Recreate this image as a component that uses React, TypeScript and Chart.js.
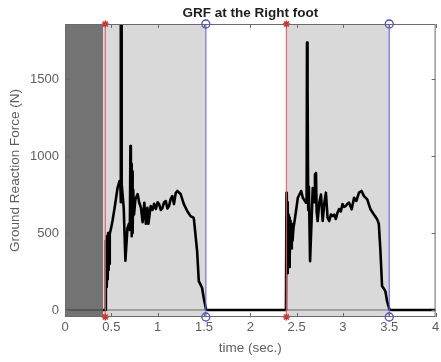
import React, { useEffect, useRef } from "react";
import { Chart, registerables } from "chart.js";

Chart.register(...registerables);

const TITLE = "GRF at the Right foot";
const X_LABEL = "time (sec.)";
const Y_LABEL = "Ground Reaction Force (N)";

const X_MIN = 0;
const X_MAX = 4;
const Y_MIN = -45;
const Y_MAX = 1857;

const X_TICKS = [0, 0.5, 1, 1.5, 2, 2.5, 3, 3.5, 4];
const X_TICK_LABELS = ["0", "0.5", "1", "1.5", "2", "2.5", "3", "3.5", "4"];
const Y_TICKS = [0, 500, 1000, 1500];
const Y_TICK_LABELS = ["0", "500", "1000", "1500"];

// shaded phases
const PRE_SPAN = [0, 0.41];
const STANCE_START = [0.41, 2.39];
const STANCE_END = [1.52, 3.5];

// gait events
const HEEL_STRIKE = [0.435, 2.39];
const TOE_OFF = [1.52, 3.5];

// ground reaction force
const GRF_TIME = [
  0.41, 0.438, 0.441, 0.445, 0.449, 0.453, 0.457, 0.461, 0.465, 0.469, 0.474, 0.478,
  0.483, 0.5, 0.513, 0.535, 0.567, 0.588, 0.597, 0.601, 0.604, 0.606, 0.609, 0.611,
  0.615, 0.634, 0.652, 0.674, 0.69, 0.7, 0.706, 0.711, 0.715, 0.72, 0.725, 0.73,
  0.736, 0.745, 0.76, 0.784, 0.8, 0.82, 0.838, 0.856, 0.873, 0.89, 0.9, 0.909,
  0.925, 0.944, 0.962, 0.981, 1.0, 1.016, 1.034, 1.051, 1.07, 1.088, 1.105, 1.123,
  1.14, 1.158, 1.176, 1.195, 1.212, 1.248, 1.283, 1.319, 1.355, 1.39, 1.426, 1.444,
  1.479, 1.497, 1.522, 1.535,
  2.385, 2.39, 2.394, 2.398, 2.402, 2.406, 2.41, 2.414, 2.418, 2.423, 2.428, 2.434,
  2.44, 2.448, 2.456, 2.466, 2.478, 2.495, 2.513, 2.549, 2.567, 2.602, 2.608, 2.612,
  2.616, 2.62, 2.625, 2.632, 2.645, 2.66, 2.674, 2.69, 2.698, 2.709, 2.716, 2.727,
  2.745, 2.763, 2.781, 2.8, 2.816, 2.834, 2.852, 2.87, 2.888, 2.905, 2.923, 2.94,
  2.959, 2.977, 2.995, 3.012, 3.03, 3.048, 3.066, 3.094, 3.12, 3.144, 3.173, 3.201,
  3.227, 3.262, 3.297, 3.334, 3.369, 3.387, 3.404, 3.422, 3.44, 3.458, 3.476, 3.501,
  3.522, 4.0,
];
const GRF_FORCE = [
  0, 0, 450, 170, 480, 150, 420, 200, 500, 260, 430, 300,
  494, 540, 580, 662, 792, 838, 830, 2300, 700, 2300, 750, 2300,
  820, 660, 320, 532, 560, 520, 1065, 600, 950, 480, 900, 500,
  780, 620, 720, 753, 700, 664, 570, 697, 560, 664, 560, 600,
  675, 650, 690, 656, 700, 688, 650, 662, 700, 708, 660, 675,
  720, 740, 688, 760, 773, 753, 688, 643, 610, 599, 383, 188,
  145, 80, 6, 0,
  0, 762, 250, 700, 240, 650, 300, 620, 280, 600, 350, 580,
  400, 560, 450, 534, 578, 650, 729, 773, 729, 697, 720, 1736,
  850, 1450, 650, 800, 318, 560, 792, 700, 880, 890, 640, 578,
  700, 750, 578, 700, 762, 600, 578, 620, 610, 620, 591, 630,
  656, 640, 688, 670, 675, 690, 697, 654, 729, 708, 762, 773,
  740, 719, 654, 621, 589, 560, 390, 156, 140, 123, 58, 6,
  0, 0,
];

const FONT = '"Liberation Sans", Arial, Helvetica, sans-serif';
const AXIS_COLOR = "#5e5e5e";

const framePlugin = {
  id: "frame",
  afterDatasetsDraw(chart: any) {
    const { ctx, chartArea, scales } = chart;
    const { left, right, top, bottom } = chartArea;
    ctx.save();
    ctx.strokeStyle = "#6a6a6a";
    ctx.lineWidth = 1;
    ctx.strokeRect(left + 0.5, top + 0.5, right - left - 1, bottom - top - 1);
    const tl = 4;
    ctx.beginPath();
    X_TICKS.forEach((v) => {
      const x = Math.round(scales.x.getPixelForValue(v)) + 0.5;
      ctx.moveTo(x, bottom);
      ctx.lineTo(x, bottom - tl);
      ctx.moveTo(x, top);
      ctx.lineTo(x, top + tl);
    });
    Y_TICKS.forEach((v) => {
      const y = Math.round(scales.y.getPixelForValue(v)) + 0.5;
      ctx.moveTo(left, y);
      ctx.lineTo(left + tl, y);
      ctx.moveTo(right, y);
      ctx.lineTo(right - tl, y);
    });
    ctx.stroke();
    ctx.restore();
  },
  afterDraw(chart: any) {
    const { ctx, chartArea } = chart;
    ctx.save();
    ctx.font = `bold 13.5px ${FONT}`;
    ctx.fillStyle = "#1e1e1e";
    ctx.textAlign = "center";
    ctx.textBaseline = "middle";
    ctx.fillText(TITLE, (chartArea.left + chartArea.right) / 2, 13);
    ctx.restore();
  },
};

export default function App() {
  const ref = useRef<HTMLCanvasElement | null>(null);

  useEffect(() => {
    if (!ref.current) return;
    Chart.defaults.font.family = FONT;

    const grf = GRF_TIME.map((t, i) => ({ x: t, y: GRF_FORCE[i] }));

    const datasets: any[] = [];

    HEEL_STRIKE.forEach((t) => {
      datasets.push({
        data: [
          { x: t, y: Y_MIN },
          { x: t, y: Y_MAX },
        ],
        borderColor: "rgba(232,90,90,0.85)",
        borderWidth: 1.3,
        pointStyle: "star",
        pointRadius: 3.5,
        pointBorderColor: "#e02828",
        pointBorderWidth: 1.4,
        clip: false,
        order: 1,
      });
    });
    TOE_OFF.forEach((t) => {
      datasets.push({
        data: [
          { x: t, y: Y_MIN },
          { x: t, y: Y_MAX },
        ],
        borderColor: "rgba(100,100,225,0.85)",
        borderWidth: 1.3,
        pointStyle: "circle",
        pointRadius: 4,
        pointBorderColor: "#4a4ad0",
        pointBackgroundColor: "rgba(0,0,0,0)",
        pointBorderWidth: 1.3,
        clip: false,
        order: 1,
      });
    });
    datasets.push({
      data: grf,
      borderColor: "#000000",
      borderWidth: 2.6,
      pointRadius: 0,
      tension: 0,
      borderJoinStyle: "round",
      order: 2,
    });
    datasets.push({
      data: [
        { x: X_MIN, y: 0 },
        { x: X_MAX, y: 0 },
      ],
      borderColor: "rgba(0,0,0,0.35)",
      borderWidth: 1.5,
      pointRadius: 0,
      order: 3,
    });
    STANCE_START.forEach((s, i) => {
      datasets.push({
        data: [
          { x: s, y: Y_MAX },
          { x: STANCE_END[i], y: Y_MAX },
        ],
        borderWidth: 0,
        borderColor: "rgba(0,0,0,0)",
        backgroundColor: "#d9d9d9",
        fill: "start",
        pointRadius: 0,
        order: 4,
      });
    });
    datasets.push({
      data: [
        { x: PRE_SPAN[0], y: Y_MAX },
        { x: PRE_SPAN[1], y: Y_MAX },
      ],
      borderWidth: 0,
      borderColor: "rgba(0,0,0,0)",
      backgroundColor: "#737373",
      fill: "start",
      pointRadius: 0,
      order: 5,
    });

    const chart = new Chart(ref.current, {
      type: "line",
      data: { datasets },
      plugins: [framePlugin],
      options: {
        responsive: false,
        animation: false,
        events: [],
        layout: { padding: { top: 24, right: 2, left: 0, bottom: 0 } },
        plugins: {
          legend: { display: false },
          tooltip: { enabled: false },
          title: { display: false },
        },
        scales: {
          x: {
            type: "linear",
            min: X_MIN,
            max: X_MAX,
            grid: { display: false, drawTicks: false },
            border: { display: false },
            afterBuildTicks: (s: any) => {
              s.ticks = X_TICKS.map((v) => ({ value: v }));
            },
            afterFit: (s: any) => {
              s.height = 45;
              s.paddingLeft = 0;
              s.paddingRight = 0;
            },
            ticks: {
              autoSkip: false,
              maxRotation: 0,
              padding: 3,
              color: AXIS_COLOR,
              font: { size: 13, family: FONT },
              callback: (_v: any, i: number) => X_TICK_LABELS[i],
            },
            title: {
              display: true,
              text: X_LABEL,
              color: AXIS_COLOR,
              font: { size: 13.5, family: FONT },
              padding: { top: 0, bottom: 6 },
            },
          },
          y: {
            type: "linear",
            min: Y_MIN,
            max: Y_MAX,
            grid: { display: false, drawTicks: false },
            border: { display: false },
            afterBuildTicks: (s: any) => {
              s.ticks = Y_TICKS.map((v) => ({ value: v }));
            },
            afterFit: (s: any) => {
              s.width = 65;
              s.paddingTop = 0;
              s.paddingBottom = 0;
            },
            ticks: {
              autoSkip: false,
              padding: 6,
              color: AXIS_COLOR,
              font: { size: 13, family: FONT },
              callback: (_v: any, i: number) => Y_TICK_LABELS[i],
            },
            title: {
              display: true,
              text: Y_LABEL,
              color: AXIS_COLOR,
              font: { size: 13.5, family: FONT },
              padding: { top: 7, bottom: 0 },
            },
          },
        },
      } as any,
    });
    return () => chart.destroy();
  }, []);

  return (
    <div style={{ position: "fixed", left: 0, top: 0, width: 441, height: 362, background: "#fff" }}>
      <canvas ref={ref} width={441} height={362} style={{ width: 441, height: 362, display: "block" }} />
    </div>
  );
}
